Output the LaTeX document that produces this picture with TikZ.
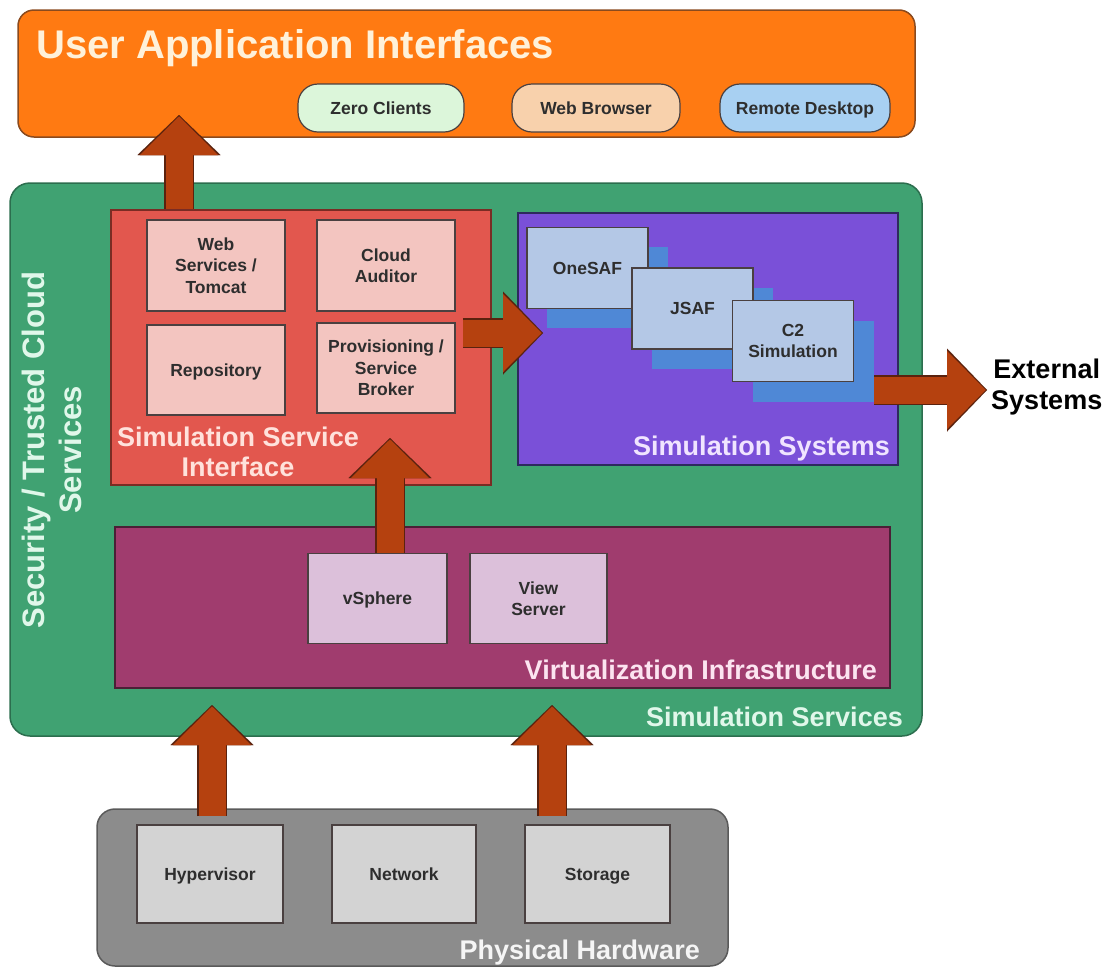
\documentclass[tikz,border=0pt]{standalone}
\usepackage{fontspec}
\setmainfont{Liberation Sans}
\usepackage{xcolor}
\usepackage{tikz}
\usetikzlibrary{arrows.meta, calc}

\definecolor{uaorange}{HTML}{FF7A12}
\definecolor{ualine}{HTML}{8A4A1E}
\definecolor{uatext}{HTML}{FFF1D9}
\definecolor{zerogreen}{HTML}{DCF6DA}
\definecolor{webpeach}{HTML}{F8D1AC}
\definecolor{remoteblue}{HTML}{A8D0F2}
\definecolor{ssgreen}{HTML}{40A272}
\definecolor{ssline}{HTML}{2C6E4E}
\definecolor{sstext}{HTML}{E0F7EA}
\definecolor{ssired}{HTML}{E2574E}
\definecolor{ssiline}{HTML}{7A2C24}
\definecolor{ssipink}{HTML}{F3C5C0}
\definecolor{ssitext}{HTML}{FFE2DC}
\definecolor{syspurple}{HTML}{7A50D8}
\definecolor{sysline}{HTML}{2E2A5E}
\definecolor{cardblue}{HTML}{B4C8E6}
\definecolor{shadowblue}{HTML}{4F88D6}
\definecolor{systext}{HTML}{F0E4FF}
\definecolor{vimagenta}{HTML}{A03C6E}
\definecolor{viline}{HTML}{4B1F36}
\definecolor{vililac}{HTML}{DCC0DA}
\definecolor{vitext}{HTML}{FCE4F0}
\definecolor{hwgray}{HTML}{8C8C8C}
\definecolor{hwline}{HTML}{5A5A5A}
\definecolor{hwlight}{HTML}{D3D3D3}
\definecolor{hwtext}{HTML}{F5F5F5}
\definecolor{arrowred}{HTML}{B5410F}
\definecolor{arrowline}{HTML}{5A220E}
\definecolor{itemline}{HTML}{4A4040}
\definecolor{itemtext}{HTML}{2E2E2E}

\newcommand{\headtxt}{\fontsize{40}{46}\selectfont\bfseries}
\newcommand{\sectxt}{\fontsize{27}{30}\selectfont\bfseries}
\newcommand{\vertxt}{\fontsize{31}{37}\selectfont\bfseries}
\newcommand{\itemtxt}{\fontsize{17.5}{21.5}\selectfont\bfseries}
\newcommand{\exttxt}{\fontsize{27}{31}\selectfont\bfseries}

\begin{document}
\begin{tikzpicture}[
        x=1pt, y=-1pt,
        every node/.style={inner sep=0pt, align=center},
        layer/.style={line width=1.5pt},
        itembox/.style={draw=itemline, line width=1.2pt, font=\itemtxt, text=itemtext},
        oneline/.style={text height=12.5pt, text depth=0pt},
        pill/.style={itembox, oneline, rounded corners=20pt, minimum width=#1, minimum height=48},
        seclabel/.style={font=\sectxt, anchor=base east},
        cardshadow/.style={fill=shadowblue, minimum width=121, minimum height=81},
        card/.style={itembox, fill=cardblue, minimum width=121, minimum height=81},
        blockarrow/.style={draw=arrowred, line width=27pt, shorten >=1.5pt,
            -{Triangle[length=38.5pt, width=78pt, line width=0.01pt]},
            preaction={draw=arrowline, line width=29.5pt, shorten >=0pt,
                -{Triangle[length=40pt, width=83pt, line width=0.01pt]}}}
    ]
    \useasboundingbox (0,0) rectangle (1107,967);

    % User application interfaces
    \node[layer, draw=ualine, fill=uaorange, rounded corners=16pt, minimum width=897, minimum height=127] (ua) at (466.5,73.5) {};
    \node[font=\headtxt, text=uatext, anchor=base west] (uatitle) at (36,58) {User Application Interfaces};
    \node[pill=166, fill=zerogreen] (zero) at (381,108) {Zero Clients};
    \node[pill=168, fill=webpeach] (browser) at (596,108) {Web Browser};
    \node[pill=170, fill=remoteblue] (remote) at (805,108) {Remote Desktop};

    % Simulation services
    \node[layer, draw=ssline, fill=ssgreen, rounded corners=20pt, minimum width=912, minimum height=553] (simsvc) at (466,459.5) {};
    \node[seclabel, text=sstext] (simsvclbl) at (903,726) {Simulation Services};
    \node[font=\vertxt, text=sstext, rotate=90] (security) at (52,450) {Security / Trusted Cloud\\Services};

    % Simulation service interface
    \node[layer, draw=ssiline, fill=ssired, minimum width=380, minimum height=275] (ssi) at (301,347.5) {};
    \node[itembox, fill=ssipink, minimum width=138, minimum height=91] (websvc) at (216,265.5) {Web\\Services /\\Tomcat};
    \node[itembox, fill=ssipink, minimum width=138, minimum height=91] (auditor) at (386,265.5) {Cloud\\Auditor};
    \node[itembox, oneline, fill=ssipink, minimum width=138, minimum height=90] (repo) at (216,370) {Repository};
    \node[itembox, fill=ssipink, minimum width=138, minimum height=90] (broker) at (386,368) {Provisioning /\\Service\\Broker};
    \node[font=\sectxt, text=ssitext] (ssilbl) at (238,452) {Simulation Service\\Interface};

    % Simulation systems
    \node[layer, draw=sysline, fill=syspurple, minimum width=380, minimum height=252] (simsys) at (708,339) {};
    \node[cardshadow] (onesafsh) at (607.5,287.5) {};
    \node[cardshadow] (jsafsh) at (712.5,328.5) {};
    \node[cardshadow] (c2sh) at (813.5,361.5) {};
    \node[card, oneline] (onesaf) at (587.5,268) {OneSAF};
    \node[card, oneline] (jsaf) at (692.5,308.5) {JSAF};
    \node[card] (c2sim) at (793,341) {C2\\Simulation};
    \node[seclabel, text=systext] (simsyslbl) at (890,455) {Simulation Systems};
    \node[font=\exttxt, text=black, anchor=west] (external) at (991,387) {External\\Systems};

    % Virtualization infrastructure
    \node[layer, draw=viline, fill=vimagenta, minimum width=775, minimum height=161] (vi) at (502.5,607.5) {};
    \node[itembox, oneline, fill=vililac, minimum width=139, minimum height=90] (vsphere) at (377.5,598.5) {vSphere};
    \node[itembox, fill=vililac, minimum width=137, minimum height=90] (viewsrv) at (538.5,598.5) {View\\Server};
    \node[seclabel, text=vitext] (vilbl) at (877,679) {Virtualization Infrastructure};

    % Physical hardware
    \node[layer, draw=hwline, fill=hwgray, rounded corners=18pt, minimum width=631, minimum height=157] (phys) at (412.5,887.5) {};
    \node[itembox, oneline, fill=hwlight, minimum width=146, minimum height=98] (hyper) at (210,874) {Hypervisor};
    \node[itembox, oneline, fill=hwlight, minimum width=144, minimum height=98] (network) at (404,874) {Network};
    \node[itembox, oneline, fill=hwlight, minimum width=145, minimum height=98] (storage) at (597.5,874) {Storage};
    \node[seclabel, text=hwtext] (physlbl) at (700,959) {Physical Hardware};

    % Block arrows between the layers
    \coordinate (uaTip) at (179,115);
    \coordinate (sysTip) at (543,333);
    \coordinate (extTip) at (987,390);
    \coordinate (vsTip) at (390,438);
    \coordinate (hwTipA) at (212,705);
    \coordinate (hwTipB) at (552,705);

    \draw[blockarrow] (ssi.north -| uaTip) -- (uaTip);
    \draw[blockarrow] ($(ssi.east |- sysTip)+(-29,0)$) -- (sysTip);
    \draw[blockarrow] (c2sh.east |- extTip) -- (extTip);
    \draw[blockarrow] (vsphere.north -| vsTip) -- (vsTip);
    \draw[blockarrow] ($(hyper.north -| hwTipA)+(0,-8)$) -- (hwTipA);
    \draw[blockarrow] ($(storage.north -| hwTipB)+(0,-8)$) -- (hwTipB);

\end{tikzpicture}
\end{document}
